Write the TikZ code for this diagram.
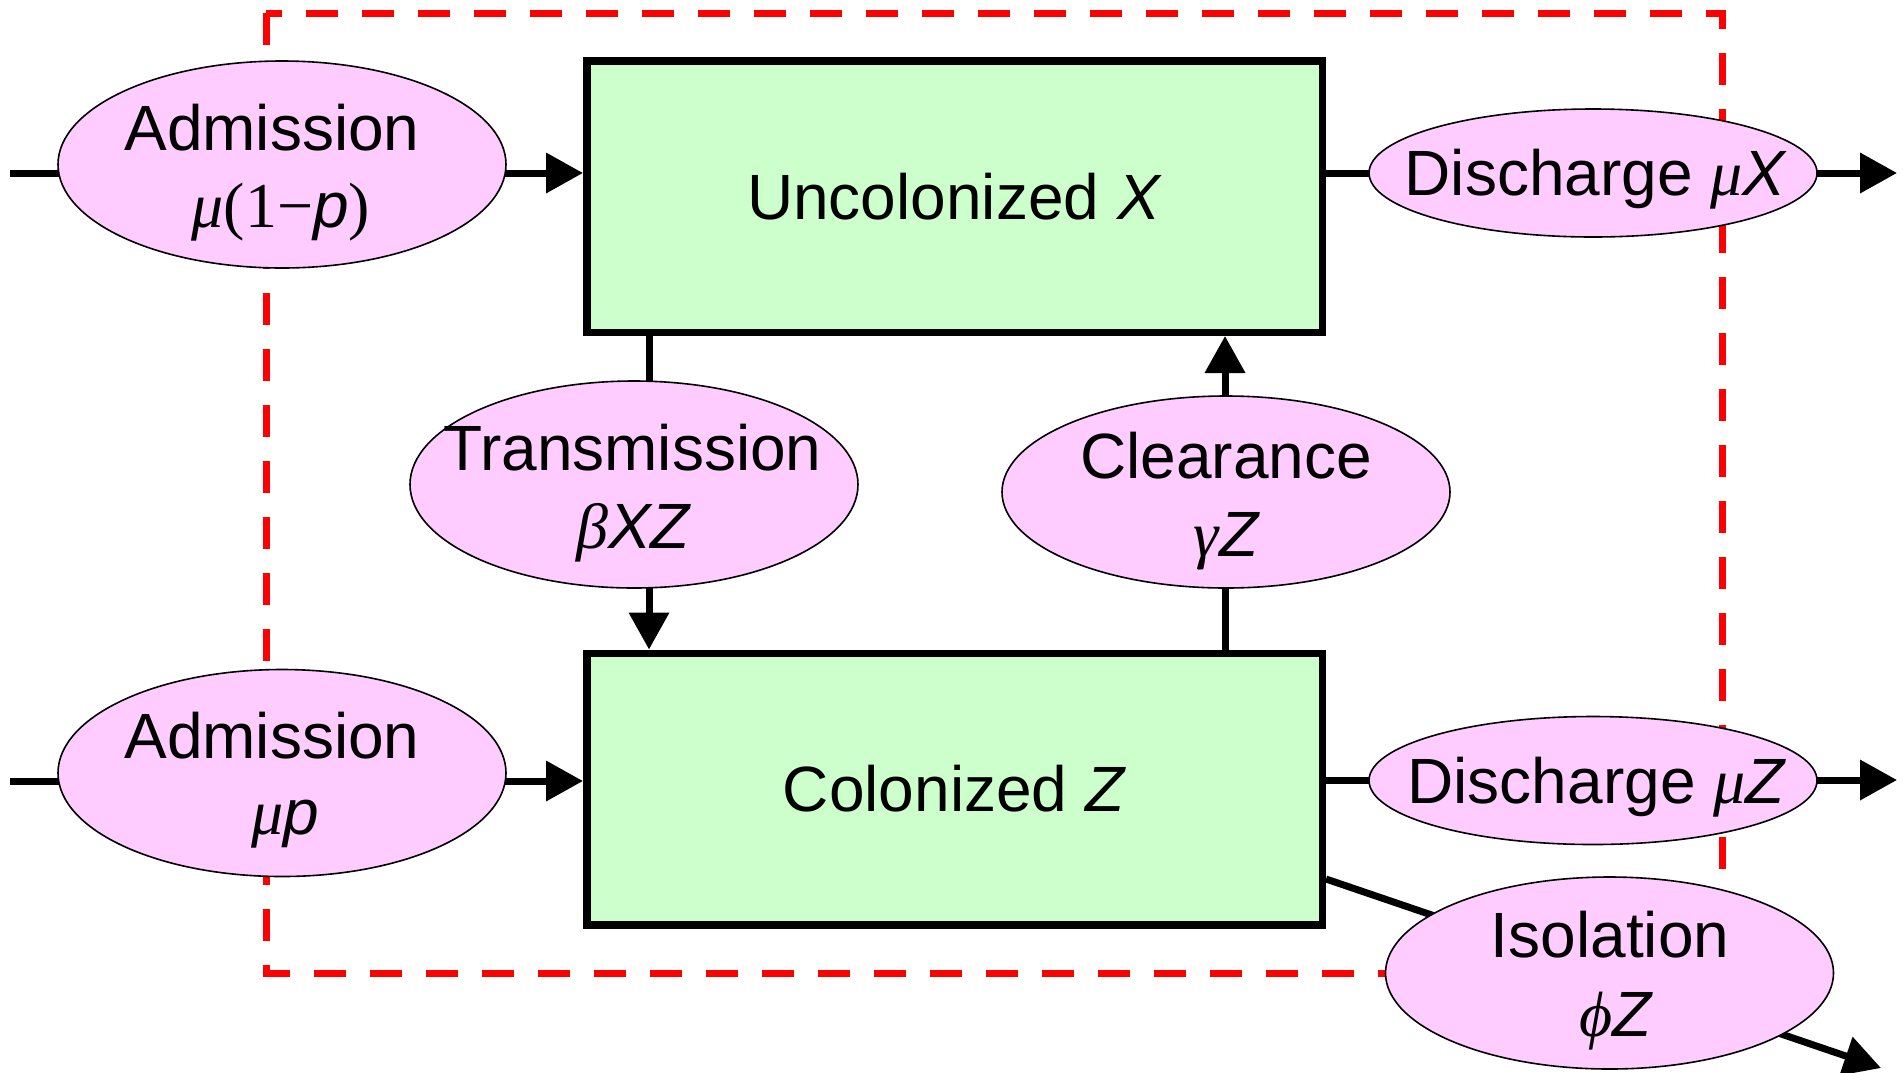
\documentclass[tikz,border=0pt]{standalone}
\usepackage{fontspec}
\setmainfont{Liberation Sans}
\newfontfamily\grk{Liberation Serif}
\usetikzlibrary{shapes.geometric,arrows.meta,calc}
\definecolor{pinkfill}{RGB}{255,204,255}
\definecolor{greenfill}{RGB}{204,255,204}
\definecolor{dashred}{RGB}{255,0,0}
\newcommand\gi[1]{{\grk\itshape #1}}
\begin{document}
\begin{tikzpicture}[x=0.5pt,y=-0.5pt,
  compbox/.style={draw=black, line width=3.75pt, fill=greenfill, minimum width=367.75pt, minimum height=135.75pt, inner sep=0pt, font=\fontsize{32}{38}\selectfont},
  rate/.style={ellipse, draw=black, line width=0.8pt, fill=pinkfill, inner sep=0pt, minimum width=224pt},
  lbl/.style={anchor=base, inner sep=0pt, font=\fontsize{32}{38}\selectfont},
  flow/.style={line width=3.5pt, -{Triangle[length=18.5pt,width=19.5pt]}},
  ]
\useasboundingbox (0,0) rectangle (1904,1072);
\draw[dashred, line width=3.5pt, dash pattern=on 16pt off 12pt] (266,13) rectangle (1722,973);

\node[compbox] (X) at (954.5,196.5) {Uncolonized \textit{X}};
\node[compbox] (Z) at (954.5,789) {Colonized \textit{Z}};

\coordinate (inA) at (10,173);
\coordinate (outX) at (1897,173);
\coordinate (inB) at (10,781);
\coordinate (outZ) at (1897,780);
\coordinate (tx) at (649,0);
\coordinate (cx) at (1225,0);
\coordinate (isoS) at (0,879);
\coordinate (isoE) at (1881,1068);

\draw[flow] (inA) -- (X.west |- inA);
\draw[flow] (X.east |- outX) -- (outX);
\draw[flow] (inB) -- (Z.west |- inB);
\draw[flow] (Z.east |- outZ) -- (outZ);
\draw[flow] (X.south -| tx) -- (Z.north -| tx);
\draw[flow] (Z.north -| cx) -- (X.south -| cx);
\draw[flow] (Z.east |- isoS) -- (isoE);

\node[rate, minimum height=103.5pt] (adm1) at (282,164.5) {};
\node[lbl] (adm1a) at (272,150) {Admission};
\node[lbl] (adm1b) at (281,227) {\gi{μ}{\grk(1−}\textit{p}{\grk)}};

\node[rate, minimum height=64pt] (dX) at (1593,173) {};
\node[lbl] (dXt) at (1596,195) {Discharge \gi{μ}\textit{X}};

\node[rate, minimum height=64pt] (dZ) at (1593,780.5) {};
\node[lbl] (dZt) at (1597,803) {Discharge \gi{μ}\textit{Z}};

\node[rate, minimum height=103.5pt] (tr) at (634,484.5) {};
\node[lbl] (tra) at (632.5,470) {Transmission};
\node[lbl] (trb) at (634,548) {\gi{β}\textit{XZ}};

\node[rate, minimum height=96pt] (cl) at (1226,492) {};
\node[lbl] (cla) at (1226,478) {Clearance};
\node[lbl] (clb) at (1227,556) {\gi{γ}\textit{Z}};

\node[rate, minimum height=103.5pt] (adm2) at (282,773) {};
\node[lbl] (adm2a) at (272,758) {Admission};
\node[lbl] (adm2b) at (285,834) {\gi{μ}\textit{p}};

\node[rate, minimum height=96pt] (iso) at (1609.5,973) {};
\node[lbl] (isoa) at (1610,957) {Isolation};
\node[lbl] (isob) at (1616,1036) {\gi{ϕ}\textit{Z}};
\end{tikzpicture}
\end{document}
